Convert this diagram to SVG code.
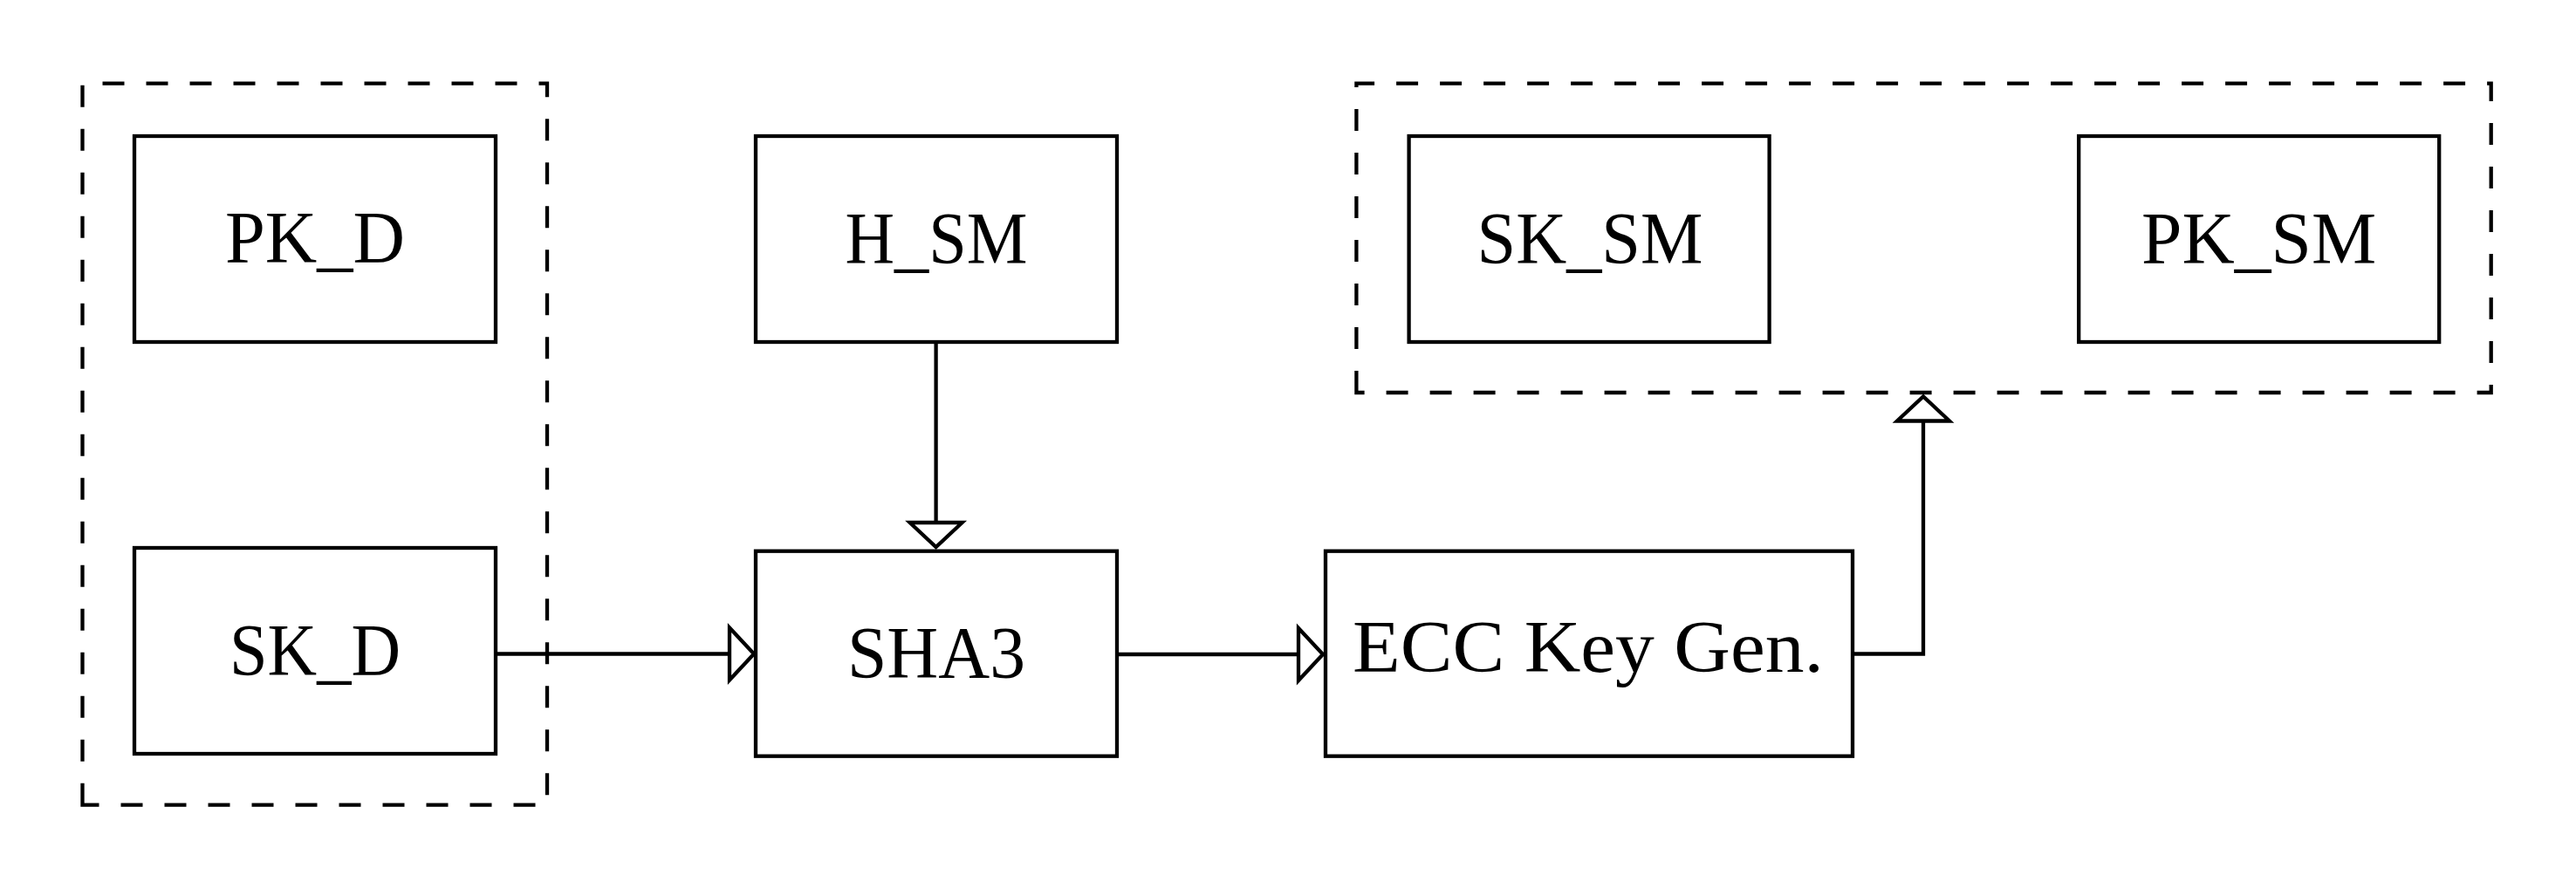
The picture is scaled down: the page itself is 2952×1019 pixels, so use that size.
<svg xmlns="http://www.w3.org/2000/svg" width="2952" height="1019" viewBox="0 0 2952 1019">
<style>
.box{fill:none;stroke:#000;stroke-width:4.3}
.grp{fill:none;stroke:#000;stroke-width:4.3;stroke-dasharray:25 25}
.lbl{font-family:"Liberation Serif","Times New Roman",serif;font-size:85px;fill:#000;text-anchor:middle}
.con{fill:none;stroke:#000;stroke-width:4.3}
</style>
<defs>
<marker id="tri" markerUnits="userSpaceOnUse" viewBox="-40 -40 50 80" refX="0" refY="0" markerWidth="50" markerHeight="80" orient="auto" overflow="visible">
<path d="M-28,-30 L0,0 L-28,30 Z" fill="#fff" stroke="#000" stroke-width="4.3"/>
</marker>
</defs>
<rect width="2952" height="1019" fill="#fff"/>
<g id="group-d">
<path class="grp" d="M94.5,922.7 V95.7 H627 V922.7 Z"/>
</g>
<g id="group-sm">
<path class="grp" d="M1554.4,450 V95.7 H2854.7 V450 Z"/>
</g>
<g id="pk_d">
<rect class="box" x="154" y="156" width="414" height="236"/>
<text class="lbl" x="361" y="301" textLength="206" lengthAdjust="spacingAndGlyphs">PK_D</text>
</g>
<g id="sk_d">
<rect class="box" x="154" y="628" width="414" height="236"/>
<text class="lbl" x="361" y="774" textLength="196" lengthAdjust="spacingAndGlyphs">SK_D</text>
</g>
<g id="h_sm">
<rect class="box" x="866" y="156" width="414" height="236"/>
<text class="lbl" x="1073" y="301.5" textLength="209" lengthAdjust="spacingAndGlyphs">H_SM</text>
</g>
<g id="sha3">
<rect class="box" x="866" y="631.7" width="414" height="235"/>
<text class="lbl" x="1073" y="776.5" textLength="204" lengthAdjust="spacingAndGlyphs">SHA3</text>
</g>
<g id="ecc">
<rect class="box" x="1519" y="631.7" width="604" height="235"/>
<text class="lbl" x="1820" y="770" textLength="540" lengthAdjust="spacingAndGlyphs">ECC Key Gen.</text>
</g>
<g id="sk_sm">
<rect class="box" x="1614.6" y="156" width="413" height="236"/>
<text class="lbl" x="1822" y="301.5" textLength="259" lengthAdjust="spacingAndGlyphs">SK_SM</text>
</g>
<g id="pk_sm">
<rect class="box" x="2382.2" y="156" width="413" height="236"/>
<text class="lbl" x="2588.6" y="301.5" textLength="269" lengthAdjust="spacingAndGlyphs">PK_SM</text>
</g>
<g id="connectors">
<path class="con" d="M568,749.5 H864" marker-end="url(#tri)"/>
<path class="con" d="M1072.6,392 V627" marker-end="url(#tri)"/>
<path class="con" d="M1280,750 H1516" marker-end="url(#tri)"/>
<path class="con" d="M2123,749.5 H2204 V454.5" marker-end="url(#tri)"/>
</g>
</svg>
